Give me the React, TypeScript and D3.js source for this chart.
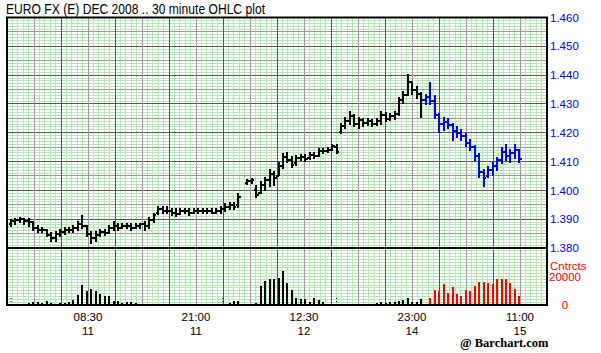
import React from 'react';
import * as d3 from 'd3';

const title = 'EURO FX (E) DEC 2008 .. 30 minute OHLC plot';

const openP: (number | null)[] = [
  1.3885, 1.3892, 1.3896, 1.3899, 1.3892, 1.3889, 1.3868, 1.3864, 1.3861, 1.3844,
  1.3833, 1.3847, 1.3854, 1.3864, 1.3861, 1.3871, 1.3882, 1.3875, 1.3847, 1.3833,
  1.3844, 1.3854, 1.3851, 1.3868, 1.3878, 1.3871, 1.3875, 1.3878, 1.3871, 1.3878,
  1.3882, 1.3875, 1.3896, 1.3923, 1.3934, 1.3930, 1.3927, 1.3920, 1.3917, 1.3930,
  1.3927, 1.3923, 1.3930, 1.3927, 1.3930, 1.3927, 1.3923, 1.3930, 1.3934, 1.3944,
  1.3948, 1.3948, null, 1.4024, 1.4031, 1.4000, 1.3990, 1.4017, 1.4035, 1.4056,
  1.4049, 1.4083, 1.4115, 1.4104, 1.4094, 1.4111, 1.4115, 1.4111, 1.4122, 1.4118,
  1.4136, 1.4136, 1.4139, 1.4150, 1.4202, 1.4222, 1.4240, 1.4257, 1.4229, 1.4243,
  1.4233, 1.4240, 1.4229, 1.4240, 1.4261, 1.4247, 1.4257, 1.4264, 1.4313, 1.4330,
  1.4376, 1.4348, 1.4334, 1.4313, 1.4323, 1.4310, 1.4261, 1.4229, 1.4236, 1.4226,
  1.4205, 1.4198, 1.4188, 1.4163, 1.4150, 1.4118, 1.4063, 1.4049, 1.4070, 1.4083,
  1.4104, 1.4132, 1.4118, 1.4129, 1.4139,
];
const highP: (number | null)[] = [
  1.3896, 1.3899, 1.3903, 1.3899, 1.3899, 1.3889, 1.3875, 1.3871, 1.3864, 1.3851,
  1.3854, 1.3861, 1.3868, 1.3871, 1.3878, 1.3889, 1.3910, 1.3878, 1.3857, 1.3854,
  1.3861, 1.3864, 1.3875, 1.3889, 1.3882, 1.3882, 1.3885, 1.3882, 1.3885, 1.3885,
  1.3889, 1.3903, 1.3917, 1.3941, 1.3944, 1.3941, 1.3937, 1.3934, 1.3937, 1.3937,
  1.3934, 1.3937, 1.3937, 1.3934, 1.3937, 1.3934, 1.3937, 1.3941, 1.3951, 1.3955,
  1.3955, 1.3986, null, 1.4035, 1.4038, 1.4014, 1.4028, 1.4042, 1.4070, 1.4063,
  1.4094, 1.4125, 1.4129, 1.4115, 1.4118, 1.4122, 1.4122, 1.4129, 1.4129, 1.4143,
  1.4143, 1.4146, 1.4157, 1.4157, 1.4229, 1.4250, 1.4271, 1.4261, 1.4250, 1.4247,
  1.4247, 1.4243, 1.4247, 1.4271, 1.4268, 1.4264, 1.4271, 1.4320, 1.4341, 1.4400,
  1.4376, 1.4358, 1.4337, 1.4330, 1.4372, 1.4327, 1.4264, 1.4250, 1.4247, 1.4229,
  1.4219, 1.4209, 1.4195, 1.4174, 1.4153, 1.4125, 1.4070, 1.4080, 1.4094, 1.4111,
  1.4146, 1.4157, 1.4139, 1.4157, 1.4139,
];
const lowP: (number | null)[] = [
  1.3878, 1.3885, 1.3889, 1.3885, 1.3875, 1.3864, 1.3857, 1.3854, 1.3840, 1.3823,
  1.3823, 1.3840, 1.3847, 1.3854, 1.3857, 1.3861, 1.3868, 1.3840, 1.3816, 1.3826,
  1.3840, 1.3844, 1.3851, 1.3861, 1.3864, 1.3868, 1.3868, 1.3864, 1.3868, 1.3868,
  1.3864, 1.3868, 1.3889, 1.3917, 1.3923, 1.3920, 1.3913, 1.3910, 1.3917, 1.3920,
  1.3913, 1.3920, 1.3923, 1.3920, 1.3923, 1.3920, 1.3920, 1.3923, 1.3927, 1.3937,
  1.3934, 1.3941, null, 1.4021, 1.4024, 1.3976, 1.3990, 1.4003, 1.4014, 1.4017,
  1.4052, 1.4077, 1.4097, 1.4080, 1.4087, 1.4104, 1.4101, 1.4108, 1.4111, 1.4118,
  1.4129, 1.4132, 1.4139, 1.4129, 1.4198, 1.4216, 1.4229, 1.4222, 1.4216, 1.4222,
  1.4226, 1.4222, 1.4226, 1.4229, 1.4240, 1.4243, 1.4247, 1.4261, 1.4303, 1.4330,
  1.4334, 1.4320, 1.4254, 1.4299, 1.4299, 1.4250, 1.4202, 1.4209, 1.4216, 1.4174,
  1.4184, 1.4174, 1.4153, 1.4139, 1.4104, 1.4045, 1.4014, 1.4045, 1.4052, 1.4070,
  1.4094, 1.4104, 1.4097, 1.4111, 1.4097,
];
const closeP: (number | null)[] = [
  1.3892, 1.3896, 1.3899, 1.3892, 1.3889, 1.3868, 1.3864, 1.3861, 1.3844, 1.3833,
  1.3847, 1.3854, 1.3864, 1.3861, 1.3871, 1.3882, 1.3875, 1.3847, 1.3833, 1.3844,
  1.3854, 1.3851, 1.3868, 1.3878, 1.3871, 1.3875, 1.3878, 1.3871, 1.3878, 1.3882,
  1.3875, 1.3896, 1.3913, 1.3934, 1.3930, 1.3927, 1.3920, 1.3917, 1.3930, 1.3927,
  1.3923, 1.3930, 1.3927, 1.3930, 1.3927, 1.3923, 1.3930, 1.3934, 1.3944, 1.3948,
  1.3941, 1.3976, null, 1.4031, 1.4035, 1.3983, 1.4017, 1.4035, 1.4056, 1.4042,
  1.4083, 1.4115, 1.4104, 1.4087, 1.4111, 1.4115, 1.4108, 1.4122, 1.4118, 1.4136,
  1.4136, 1.4139, 1.4153, 1.4132, 1.4222, 1.4240, 1.4257, 1.4229, 1.4243, 1.4233,
  1.4240, 1.4229, 1.4240, 1.4261, 1.4247, 1.4257, 1.4264, 1.4313, 1.4330, 1.4376,
  1.4348, 1.4334, 1.4313, 1.4323, 1.4310, 1.4261, 1.4229, 1.4236, 1.4226, 1.4205,
  1.4198, 1.4188, 1.4163, 1.4150, 1.4118, 1.4063, 1.4042, 1.4070, 1.4083, 1.4104,
  1.4132, 1.4118, 1.4129, 1.4139, 1.4108,
];
const volume: (number | null)[] = [
  0, 0, 0, 0, 1200, 1800, 2100, 1600, 2800, 1200,
  900, 1200, 1100, 1800, 3500, 7000, 13900, 10000, 11400, 10000,
  7700, 6300, 6300, 3000, 2800, 1600, 1800, 2300, 1200, 0,
  900, 900, 0, 0, 0, 0, 0, 700, 700, 0,
  0, 0, 0, 0, 0, 0, 0, 0, 0, 1200,
  2800, 2800, null, 0, 0, 1600, 13500, 17000, 18100, 18300,
  19000, 23700, 15500, 10400, 4600, 4200, 4200, 2300, 4600, 3500,
  2300, 700, 0, 0, 0, 0, 900, 0, 0, 0,
  0, 0, 1600, 1800, 1600, 1800, 2100, 2800, 3500, 4600,
  2300, 2300, 3900, 700, 4900, 10400, 9700, 14400, 8100, 12500,
  7400, 6300, 10400, 10000, 13400, 16200, 16200, 15100, 14400, 18100,
  18100, 18100, 15500, 11500, 6500,
];
const currentSessionStart = 93;
const sessionMarks = [0, 47.5, 73];

const priceTicks = [1.46, 1.45, 1.44, 1.43, 1.42, 1.41, 1.4, 1.39, 1.38];
const timeLabels = ['08:30', '21:00', '12:30', '23:00', '11:00'];
const dayLabels = ['11', '11', '12', '14', '15'];
const labelGridCols = [3, 7, 11, 15, 19];

const FONT = "'Liberation Sans', Arial, Helvetica, sans-serif";

export default function App() {
  const W = 601, H = 353;
  const L = 7, R = 547, T = 17.5, S = 248, B = 305;
  const x = d3.scaleLinear().domain([0, 114]).range([11, 519.4]);
  const y = d3.scaleLinear().domain([1.38, 1.46]).range([S, T]);
  const yv = d3.scaleLinear().domain([0, 40000]).range([B, S]);
  const colW = (R - L) / 20;
  const fmt = d3.format('.3f');
  const green = '#b6e8b6';

  const minorV = d3.range(1, 100).map((k) => L + (k * (R - L)) / 100);
  const minorHP = d3.range(1, 80).map((k) => y(1.38 + k * 0.001));
  const minorHV = d3.range(1, 20).map((k) => yv(k * 2000));
  const majorV = d3.range(1, 20);
  const majorH = d3.range(1, 16).map((k) => ({ v: 1.38 + k * 0.005, dark: k % 2 === 0 }));

  const tick = 2.5;

  return (
    <svg width={W} height={H} style={{ position: 'absolute', left: 0, top: 0, background: '#fff' }}>
      <rect x={0} y={0} width={W} height={H} fill="#fff" />
      <g shapeRendering="crispEdges">
        {minorV.map((xx, i) => (
          <line key={'mv' + i} x1={xx} x2={xx} y1={T} y2={B} stroke={green} strokeWidth={1} />
        ))}
        {minorHP.map((yy, i) => (
          <line key={'mhp' + i} x1={L} x2={R} y1={yy} y2={yy} stroke={green} strokeWidth={1} />
        ))}
        {minorHV.map((yy, i) => (
          <line key={'mhv' + i} x1={L} x2={R} y1={yy} y2={yy} stroke={green} strokeWidth={1} />
        ))}
        {majorH.map((d, i) => (
          <line key={'MH' + i} x1={L} x2={R} y1={y(d.v)} y2={y(d.v)} stroke={d.dark ? '#555' : '#999'} strokeWidth={1} />
        ))}
        {majorV.map((k) => (
          <line key={'MV' + k} x1={L + k * colW} x2={L + k * colW} y1={T} y2={B} stroke={k % 2 === 0 ? '#555' : '#999'} strokeWidth={1} />
        ))}
      </g>

      {sessionMarks.map((m, i) => (
        <line key={'sm' + i} x1={x(m)} x2={x(m)} y1={298} y2={B} stroke="#000" strokeWidth={1} strokeDasharray="1,2" />
      ))}

      <g shapeRendering="crispEdges">
        {volume.map((v, i) =>
          v && v > 0 ? (
            <rect key={'v' + i} x={x(i) - 1} y={yv(v)} width={2} height={B - yv(v)} fill={i >= currentSessionStart ? '#ff0000' : '#000'} />
          ) : null
        )}
      </g>

      <g shapeRendering="crispEdges">
        {openP.map((o, i) => {
          const h = highP[i], l = lowP[i], c = closeP[i];
          if (o == null || h == null || l == null || c == null) return null;
          const col = i >= currentSessionStart ? '#0000ff' : '#000';
          const cx = x(i);
          return (
            <g key={'b' + i} stroke={col} strokeWidth={2}>
              <line x1={cx} x2={cx} y1={y(h) - 1} y2={y(l) + 1} />
              <line x1={cx - tick} x2={cx} y1={y(o)} y2={y(o)} />
              <line x1={cx} x2={cx + tick} y1={y(c)} y2={y(c)} />
            </g>
          );
        })}
      </g>

      <rect x={L} y={T} width={R - L} height={B - T} fill="none" stroke="#000" strokeWidth={2} />
      <line x1={L} x2={R} y1={S} y2={S} stroke="#000" strokeWidth={2} />

      <text x={6} y={13.5} fontFamily={FONT} fontSize={14} fill="#000" textLength={259} lengthAdjust="spacingAndGlyphs">
        {title}
      </text>

      {priceTicks.map((p, i) => (
        <text key={'pt' + i} x={550} y={y(p)} dy="0.36em" fontFamily={FONT} fontSize={11.5} fill="#0000ff">
          {fmt(p)}
        </text>
      ))}

      <text x={550} y={269.5} fontFamily={FONT} fontSize={11.5} fill="#ff0000">Cntrcts</text>
      <text x={549} y={yv(20000)} dy="0.36em" fontFamily={FONT} fontSize={11.5} fill="#ff0000">20000</text>
      <text x={565} y={yv(0)} dy="0.36em" textAnchor="middle" fontFamily={FONT} fontSize={11.5} fill="#ff0000">0</text>

      {timeLabels.map((t, i) => (
        <g key={'tl' + i}>
          <text x={L + labelGridCols[i] * colW} y={321} textAnchor="middle" fontFamily={FONT} fontSize={11.5} fill="#000">{t}</text>
          <text x={L + labelGridCols[i] * colW} y={335} textAnchor="middle" fontFamily={FONT} fontSize={11.5} fill="#000">{dayLabels[i]}</text>
        </g>
      ))}

      <text x={460} y={347} fontFamily="'Liberation Serif', 'Times New Roman', serif" fontWeight="bold" fontSize={12.5} fill="#000">
        @ Barchart.com
      </text>
    </svg>
  );
}
